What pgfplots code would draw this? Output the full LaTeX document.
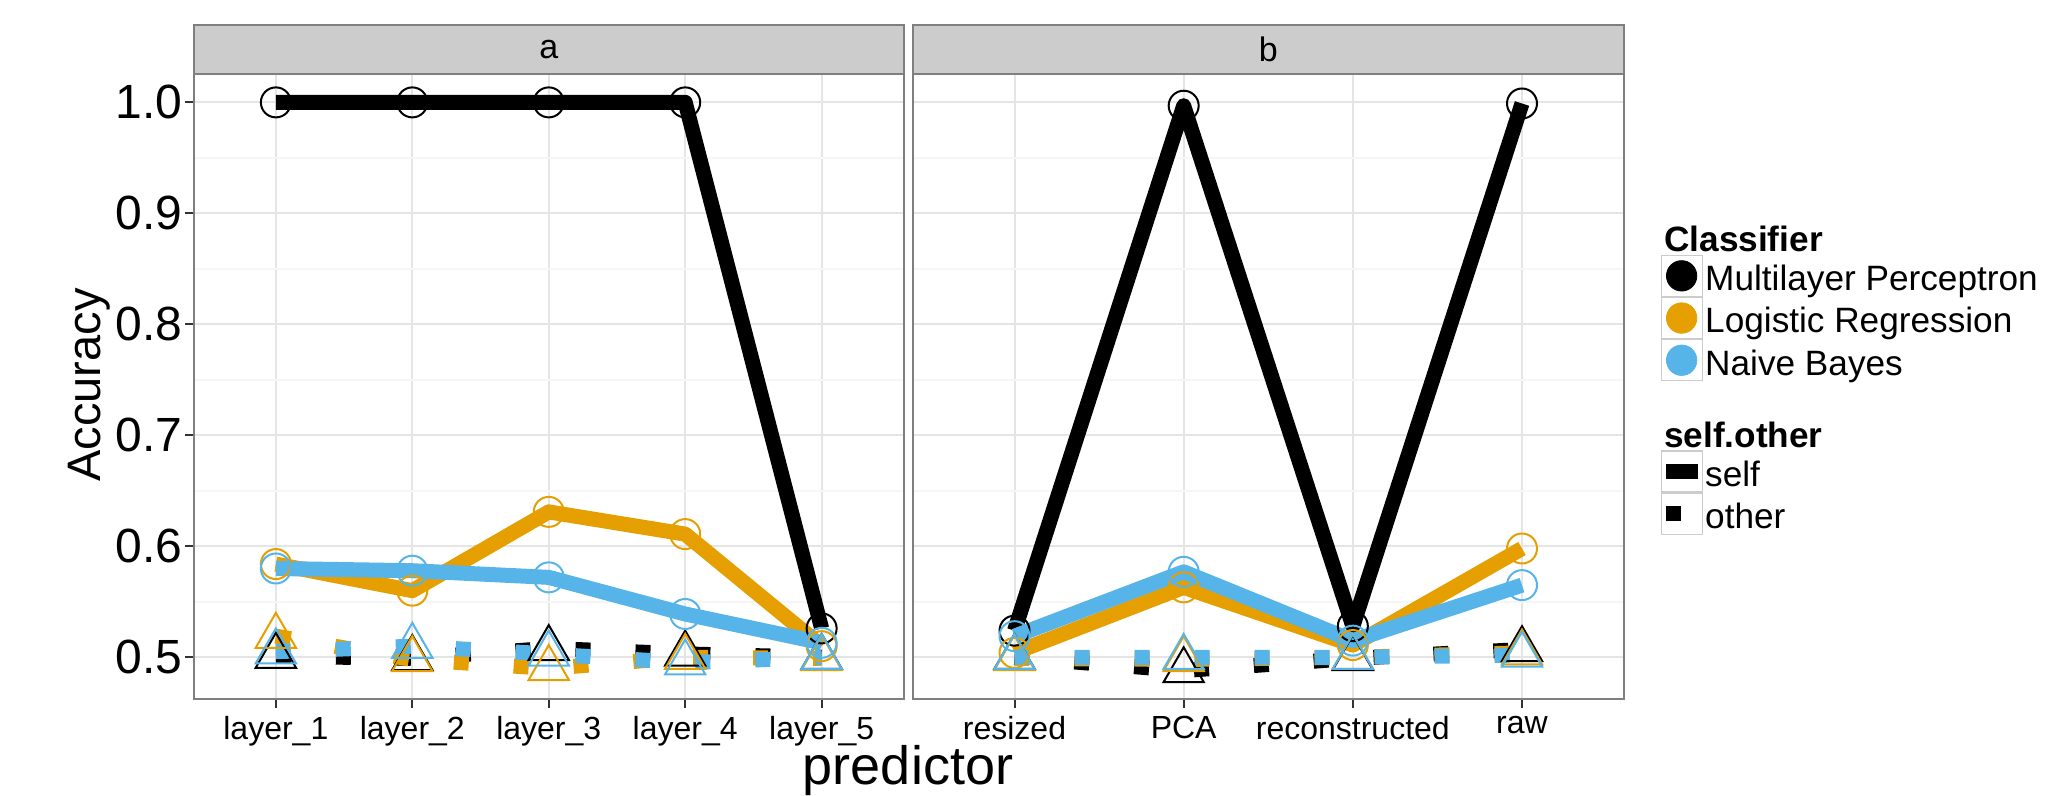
\documentclass[border=0pt]{standalone}
\usepackage{fontspec}
\setmainfont{Liberation Sans}
\usepackage{pgfplots}
\pgfplotsset{compat=1.18}
\definecolor{cblack}{RGB}{0,0,0}
\definecolor{corange}{RGB}{230,159,0}
\definecolor{cblue}{RGB}{86,180,233}
\definecolor{grey90}{RGB}{229,229,229}
\definecolor{grey98}{RGB}{246,246,246}
\definecolor{grey80}{RGB}{204,204,204}
\definecolor{grey50}{RGB}{127,127,127}
\definecolor{grey20}{RGB}{51,51,51}
\pgfplotsset{
 selfline/.style={line width=7.5pt, line cap=butt, line join=round, mark=none, forget plot},
 otherline/.style={line width=7.5pt, line cap=butt, line join=round, dash pattern=on 7.5pt off 22.5pt, mark=none, forget plot},
 circ/.style={only marks, mark=o, mark size=7.5pt, mark options={line width=1pt, solid}, forget plot},
 tri/.style={only marks, mark=triangle, mark size=11.66pt, mark options={line width=1pt, solid}, forget plot},
 facet/.style={
  scale only axis, height=312.5pt, anchor=south west,
  ymin=0.4624, ymax=1.0256,
  ytick={0.5,0.6,0.7,0.8,0.9,1.0},
  minor ytick={0.55,0.65,0.75,0.85,0.95},
  xmajorgrids, ymajorgrids, yminorgrids,
  major grid style={grey90, line width=1pt},
  minor grid style={grey98, line width=1pt},
  axis line style={grey50, line width=1pt},
  tick align=outside, major tick length=4.5pt, minor tick length=0pt,
  tick style={grey20, line width=1pt},
  tick pos=left,
  xticklabel style={font=\fontsize{16}{16}\selectfont, inner sep=0pt, yshift=-4pt},
  every axis title shift=0pt,
  title style={at={(0.5,1)}, anchor=south, fill=grey80, draw=grey50, line width=1pt,
    minimum height=24.5pt, inner sep=0pt, outer sep=0pt, font=\fontsize{17}{17}\selectfont},
 }
}
\begin{document}
\begin{tikzpicture}
\useasboundingbox (0,0) rectangle (1024.5pt,398pt);
% ---------------- panel a
\begin{axis}[facet, at={(97pt,48.5pt)}, width=354.75pt,
  xmin=0.4, xmax=5.6, xtick={1,2,3,4,5},
  xticklabels={layer\_1,layer\_2,layer\_3,layer\_4,layer\_5},
  yticklabels={0.5,0.6,0.7,0.8,0.9,1.0},
  yticklabel style={font=\fontsize{24}{24}\selectfont, inner sep=0pt, xshift=-1pt},
  title={a}, title style={minimum width=354.75pt},
]
% points
\addplot[circ, color=cblack] coordinates {(1,1.0)(2,1.0)(3,1.0)(4,1.0)(5,0.526)};
\addplot[tri, color=cblack] coordinates {(1,0.501)(2,0.499)(3,0.508)(4,0.503)(5,0.500)};
\addplot[circ, color=corange] coordinates {(1,0.584)(2,0.560)(3,0.631)(4,0.611)(5,0.510)};
\addplot[tri, color=corange] coordinates {(1,0.519)(2,0.498)(3,0.490)(4,0.500)(5,0.499)};
\addplot[circ, color=cblue] coordinates {(1,0.580)(2,0.578)(3,0.572)(4,0.539)(5,0.513)};
\addplot[tri, color=cblue] coordinates {(1,0.505)(2,0.510)(3,0.503)(4,0.495)(5,0.500)};
% lines
\addplot[selfline, color=cblack] coordinates {(1,1.0)(2,1.0)(3,1.0)(4,1.0)(5,0.526)};
\addplot[otherline, color=cblack] coordinates {(1,0.501)(2,0.499)(3,0.508)(4,0.503)(5,0.500)};
\addplot[selfline, color=corange] coordinates {(1,0.584)(2,0.560)(3,0.631)(4,0.611)(5,0.510)};
\addplot[otherline, color=corange] coordinates {(1,0.519)(2,0.498)(3,0.490)(4,0.500)(5,0.499)};
\addplot[selfline, color=cblue] coordinates {(1,0.580)(2,0.578)(3,0.572)(4,0.539)(5,0.513)};
\addplot[otherline, color=cblue] coordinates {(1,0.505)(2,0.510)(3,0.503)(4,0.495)(5,0.500)};
\end{axis}
% ---------------- panel b
\begin{axis}[facet, at={(456.5pt,48.5pt)}, width=355.25pt,
  xmin=0.4, xmax=4.6, xtick={1,2,3,4},
  xticklabels={resized,PCA,reconstructed,raw},
  yticklabels={}, ytick style={draw=none},
  title={b}, title style={minimum width=355.25pt},
  legend cell align=left,
  legend style={at={(1.0486,0.7564)}, anchor=north west, draw=none, fill=none,
    inner sep=0pt, outer sep=0pt, row sep=0pt, column sep=0pt,
    font=\fontsize{17.6}{17.6}\selectfont, nodes={inner sep=0pt, outer sep=0pt}},
]
% points
\addplot[circ, color=cblack] coordinates {(1,0.524)(2,0.997)(3,0.528)(4,0.999)};
\addplot[tri, color=cblack] coordinates {(1,0.500)(2,0.488)(3,0.499)(4,0.507)};
\addplot[circ, color=corange] coordinates {(1,0.504)(2,0.563)(3,0.511)(4,0.598)};
\addplot[tri, color=corange] coordinates {(1,0.499)(2,0.498)(3,0.500)(4,0.504)};
\addplot[circ, color=cblue] coordinates {(1,0.519)(2,0.577)(3,0.515)(4,0.565)};
\addplot[tri, color=cblue] coordinates {(1,0.500)(2,0.500)(3,0.500)(4,0.502)};
% lines
\addplot[selfline, color=cblack] coordinates {(1,0.524)(2,0.997)(3,0.528)(4,0.999)};
\addplot[otherline, color=cblack] coordinates {(1,0.500)(2,0.488)(3,0.499)(4,0.507)};
\addplot[selfline, color=corange] coordinates {(1,0.504)(2,0.563)(3,0.511)(4,0.598)};
\addplot[otherline, color=corange] coordinates {(1,0.499)(2,0.498)(3,0.500)(4,0.504)};
\addplot[selfline, color=cblue] coordinates {(1,0.519)(2,0.577)(3,0.515)(4,0.565)};
\addplot[otherline, color=cblue] coordinates {(1,0.500)(2,0.500)(3,0.500)(4,0.502)};
% legend
\addlegendimage{empty legend}
\addlegendentry{\hspace*{-20.5pt}\textbf{Classifier}\rule[-10.45pt]{0pt}{10.45pt}}
\addlegendimage{legend image code/.code={
  \draw[grey80, line width=0.6pt] (0pt,-8.45pt) rectangle (20.5pt,12.05pt);
  \fill[cblack] (10.25pt,1.8pt) circle (7.6pt);}}
\addlegendentry{Multilayer Perceptron\vphantom{Mp}}
\addlegendimage{legend image code/.code={
  \draw[grey80, line width=0.6pt] (0pt,-8.45pt) rectangle (20.5pt,12.05pt);
  \fill[corange] (10.25pt,1.8pt) circle (7.6pt);}}
\addlegendentry{Logistic Regression\vphantom{Mp}}
\addlegendimage{legend image code/.code={
  \draw[grey80, line width=0.6pt] (0pt,-8.45pt) rectangle (20.5pt,12.05pt);
  \fill[cblue] (10.25pt,1.8pt) circle (7.6pt);}}
\addlegendentry{Naive Bayes\vphantom{Mp}}
\addlegendimage{empty legend}
\addlegendentry{\hspace*{-20.5pt}\textbf{self.other}\rule[-8.75pt]{0pt}{41.8pt}}
\addlegendimage{legend image code/.code={
  \draw[grey80, line width=0.6pt] (0pt,-8.45pt) rectangle (20.5pt,12.05pt);
  \draw[cblack, line width=7.5pt, line cap=butt] (2.2pt,1.8pt) -- (18.3pt,1.8pt);}}
\addlegendentry{self\vphantom{Mp}}
\addlegendimage{legend image code/.code={
  \draw[grey80, line width=0.6pt] (0pt,-8.45pt) rectangle (20.5pt,12.05pt);
  \draw[cblack, line width=7.5pt, line cap=butt] (2.2pt,1.8pt) -- (9.7pt,1.8pt);}}
\addlegendentry{other\vphantom{Mp}}
\end{axis}
\node[rotate=90, anchor=base, font=\fontsize{23.5}{23.5}\selectfont] at (50pt,205.5pt) {Accuracy};
\node[anchor=base, font=\fontsize{27}{27}\selectfont] at (454pt,5.8pt) {predictor};
\end{tikzpicture}
\end{document}
